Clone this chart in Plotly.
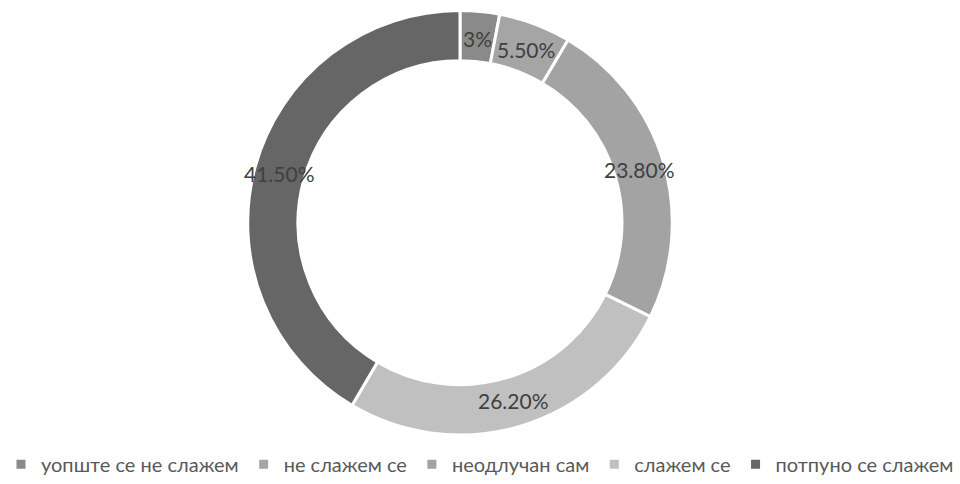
import math
import plotly.graph_objects as go

categories = ["уопште се не слажем", "не слажем се", "неодлучан сам", "слажем се", "потпуно се слажем"]
values = [3, 5.5, 23.8, 26.2, 41.5]
labels_text = ["3%", "5.50%", "23.80%", "26.20%", "41.50%"]
colors = ["#8a8a8a", "#a5a5a5", "#a3a3a3", "#c0c0c0", "#666666"]

W, H = 960, 484
CX, CY = 460, 225          # ring centre in px
R_OUT = 211                # outer radius in px
R_LABEL = 187              # radius of the label ring in px
FONT = "Lato, Open Sans, sans-serif"

half = R_OUT + 3.5
fig = go.Figure(go.Pie(
    labels=categories,
    values=values,
    textinfo="none",
    hole=0.763,
    sort=False,
    direction="clockwise",
    rotation=0,
    marker=dict(colors=colors, line=dict(color="white", width=3)),
    domain=dict(x=[(CX - 440) / W, (CX + 440) / W],
                y=[1 - (CY + half) / H, 1 - (CY - half) / H]),
    showlegend=True,
))

# labels placed at the middle angle of each slice
total = sum(values)
cum = 0
annotations = []
for v, t in zip(values, labels_text):
    mid = (cum + v / 2) / total * 2 * math.pi
    cum += v
    px = CX + R_LABEL * math.sin(mid)
    py = CY - R_LABEL * math.cos(mid)
    annotations.append(dict(
        x=px / W, y=1 - py / H, xref="paper", yref="paper",
        text=t, showarrow=False, xanchor="center", yanchor="middle",
        font=dict(size=21, color="#404040", family=FONT),
    ))

fig.update_layout(
    width=W, height=H,
    margin=dict(l=0, r=0, t=0, b=0),
    paper_bgcolor="white",
    annotations=annotations,
    legend=dict(
        orientation="h", x=0.5, xanchor="center", y=1 - 469 / H, yanchor="middle",
        font=dict(size=20, color="#595959", family=FONT),
        traceorder="normal", itemwidth=30,
    ),
    font=dict(family=FONT),
)

fig.write_html("out.html", config={"displayModeBar": False},
               post_script="document.body.style.margin='0';")
